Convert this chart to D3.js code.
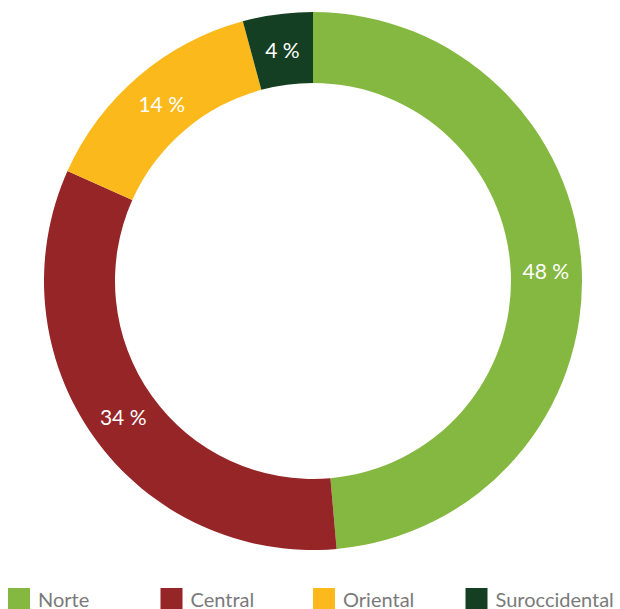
<!DOCTYPE html>
<html>
<head>
<meta charset="utf-8">
<script src="https://cdn.jsdelivr.net/npm/d3@7"></script>
<style>
  body { margin: 0; background: #fff; }
  svg { display: block; font-family: Lato, "Open Sans", sans-serif; }
</style>
</head>
<body>
<svg></svg>
<script>
var regions = ["Norte", "Central", "Oriental", "Suroccidental"];
var shares = [48.6, 33.1, 14.1, 4.2];
var labels = ["48 %", "34 %", "14 %", "4 %"];
var colors = ["#84b840", "#962527", "#fbb91b", "#143f22"];

var svgWidth = 620, svgHeight = 609;
var cx = 313, cy = 281;
var outerR = 269, innerR = 198;

var svg = d3.select("svg")
  .attr("width", svgWidth)
  .attr("height", svgHeight);

var color = d3.scaleOrdinal().domain(regions).range(colors);

var pie = d3.pie().sort(null).value(function(d) { return d.value; });
var data = regions.map(function(r, i) { return { name: r, value: shares[i], label: labels[i] }; });

var arc = d3.arc().innerRadius(innerR).outerRadius(outerR);
var labelArc = d3.arc().innerRadius(233).outerRadius(233);

var g = svg.append("g")
  .attr("transform", "translate(" + cx + "," + cy + ")");

var slices = g.selectAll(".slice")
  .data(pie(data))
  .enter().append("g")
  .attr("class", "slice");

slices.append("path")
  .attr("d", arc)
  .attr("fill", function(d) { return color(d.data.name); });

slices.append("text")
  .attr("transform", function(d) { return "translate(" + labelArc.centroid(d) + ")"; })
  .attr("dy", "0.4em")
  .attr("text-anchor", "middle")
  .attr("fill", "#fff")
  .style("font-size", "21px")
  .text(function(d) { return d.data.label; });

// legend along the bottom
var lx = d3.scaleBand().domain(regions).range([8, 618]);

var legend = svg.append("g").attr("class", "legend")
  .selectAll("g")
  .data(regions)
  .enter().append("g")
  .attr("transform", function(d) { return "translate(" + lx(d) + ",588)"; });

legend.append("rect")
  .attr("width", 22)
  .attr("height", 22)
  .attr("fill", function(d) { return color(d); });

legend.append("text")
  .attr("x", 30)
  .attr("y", 19)
  .attr("fill", "#7a7a7a")
  .style("font-size", "20px")
  .text(function(d) { return d; });
</script>
</body>
</html>
